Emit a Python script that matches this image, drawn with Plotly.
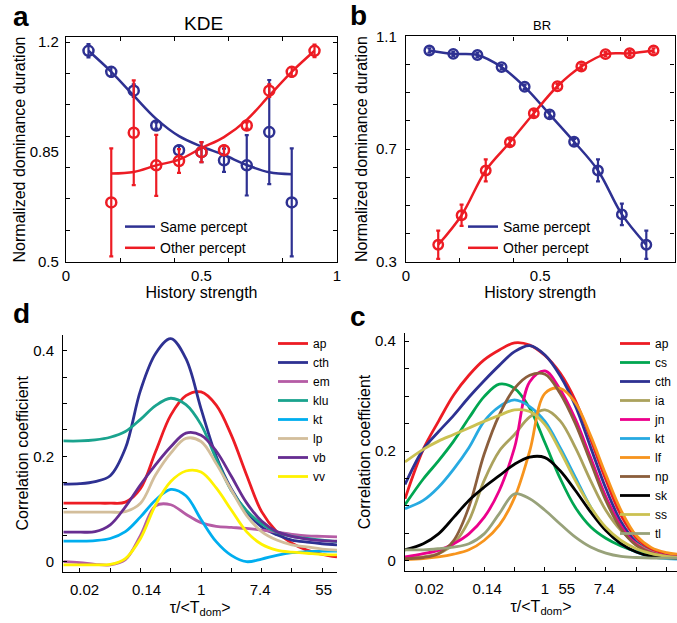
import plotly.graph_objects as go

W, H = 677, 623
FONT = "Liberation Sans, Arial, Helvetica, sans-serif"
BLUE = "#2E3192"
RED = "#ED1C24"

# ---------------- Panel a (KDE) ----------------
a_same_x = [0.083, 0.167, 0.250, 0.333, 0.417, 0.500, 0.583, 0.667, 0.750, 0.833]
a_same_y = [1.172, 1.105, 1.045, 0.934, 0.855, 0.849, 0.823, 0.807, 0.913, 0.689]
a_same_err = [0.021, 0.015, 0.020, 0.010, 0.015, 0.032, 0.037, 0.096, 0.166, 0.172]
a_same_fit = [1.172, 1.105, 1.029, 0.955, 0.900, 0.867, 0.840, 0.808, 0.785, 0.779]

a_other_x = [0.167, 0.250, 0.333, 0.417, 0.500, 0.583, 0.667, 0.750, 0.833, 0.917]
a_other_y = [0.689, 0.911, 0.807, 0.821, 0.849, 0.855, 0.934, 1.045, 1.105, 1.172]
a_other_err = [0.172, 0.167, 0.097, 0.038, 0.032, 0.015, 0.010, 0.020, 0.015, 0.020]
a_other_fit = [0.781, 0.786, 0.807, 0.825, 0.862, 0.897, 0.952, 1.029, 1.105, 1.172]

# ---------------- Panel b (BR) ----------------
b_same_x = [0.087, 0.176, 0.266, 0.356, 0.442, 0.535, 0.626, 0.715, 0.804, 0.895]
b_same_y = [1.050, 1.038, 1.034, 0.991, 0.921, 0.823, 0.726, 0.624, 0.468, 0.360]
b_same_err = [0.008, 0.008, 0.008, 0.008, 0.008, 0.010, 0.010, 0.039, 0.038, 0.050]

b_other_x = [0.120, 0.207, 0.297, 0.387, 0.476, 0.564, 0.653, 0.743, 0.833, 0.922]
b_other_y = [0.360, 0.465, 0.624, 0.724, 0.827, 0.923, 0.993, 1.037, 1.040, 1.050]
b_other_err = [0.050, 0.038, 0.039, 0.010, 0.010, 0.008, 0.008, 0.008, 0.008, 0.008]

# ---------------- Panel d ----------------
d_ln_tau = [-4.55, -4, -3.5, -3, -2.5, -2, -1.5, -1, -0.5, 0, 0.5, 1, 1.5, 2, 2.5, 3, 3.5, 4, 4.49]
d_names = ["ap", "cth", "em", "klu", "kt", "lp", "vb", "vv"]
d_colors = ["#ED1C24", "#2E3192", "#B55CA5", "#1AA38E", "#00AEEF", "#D3BE9B", "#662D91", "#FFF200"]
d_ap = [0.111, 0.111, 0.111, 0.111, 0.113, 0.139, 0.209, 0.278, 0.315, 0.322, 0.297, 0.240, 0.165, 0.095, 0.057, 0.035, 0.022, 0.014, 0.009]
d_cth = [0.147, 0.148, 0.152, 0.163, 0.215, 0.325, 0.395, 0.423, 0.385, 0.290, 0.200, 0.138, 0.095, 0.066, 0.051, 0.041, 0.037, 0.034, 0.032]
d_em = [0.000, -0.002, -0.005, -0.006, 0.004, 0.050, 0.106, 0.108, 0.090, 0.074, 0.067, 0.065, 0.063, 0.060, 0.056, 0.052, 0.049, 0.048, 0.047]
d_klu = [0.229, 0.229, 0.231, 0.236, 0.247, 0.270, 0.296, 0.310, 0.298, 0.260, 0.195, 0.135, 0.097, 0.072, 0.056, 0.048, 0.044, 0.041, 0.038]
d_kt = [0.039, 0.039, 0.040, 0.044, 0.057, 0.085, 0.117, 0.137, 0.125, 0.080, 0.038, 0.012, 0.000, 0.005, 0.012, 0.017, 0.019, 0.020, 0.020]
d_lp = [0.094, 0.094, 0.094, 0.094, 0.095, 0.111, 0.165, 0.206, 0.234, 0.228, 0.186, 0.136, 0.088, 0.057, 0.041, 0.032, 0.028, 0.024, 0.022]
d_vb = [0.056, 0.056, 0.057, 0.070, 0.104, 0.146, 0.184, 0.218, 0.244, 0.240, 0.210, 0.162, 0.112, 0.077, 0.057, 0.048, 0.043, 0.040, 0.039]
d_vv = [-0.006, -0.006, -0.006, -0.005, 0.006, 0.044, 0.108, 0.152, 0.172, 0.170, 0.140, 0.098, 0.057, 0.033, 0.022, 0.018, 0.016, 0.014, 0.013]
d_series = [d_ap, d_cth, d_em, d_klu, d_kt, d_lp, d_vb, d_vv]
d_tick_pos = [-3.85, -1.8, 0, 1.95, 4.05]
d_tick_text = ["0.02", "0.14", "1", "7.4", "55"]

# ---------------- Panel c ----------------
c_ln_tau = [-4.6, -4, -3.5, -3, -2.5, -2, -1.5, -1, -0.5, 0, 0.5, 1, 1.5, 2, 2.5, 3, 3.5, 4, 4.34]
c_names = ["ap", "cs", "cth", "ia", "jn", "kt", "lf", "np", "sk", "ss", "tl"]
c_colors = ["#ED1C24", "#00A651", "#2E3192", "#ABA25D", "#EC008C", "#27AAE1", "#F7941D", "#8B5E3C", "#000000", "#CBC152", "#98A27A"]
c_ap = [0.113, 0.203, 0.254, 0.302, 0.338, 0.366, 0.384, 0.397, 0.393, 0.374, 0.342, 0.292, 0.222, 0.148, 0.083, 0.042, 0.021, 0.013, 0.010]
c_cs = [0.102, 0.149, 0.182, 0.218, 0.260, 0.299, 0.322, 0.314, 0.278, 0.215, 0.150, 0.097, 0.062, 0.041, 0.027, 0.017, 0.010, 0.006, 0.005]
c_cth = [0.139, 0.203, 0.235, 0.265, 0.298, 0.328, 0.356, 0.381, 0.392, 0.375, 0.337, 0.282, 0.207, 0.132, 0.071, 0.034, 0.016, 0.009, 0.007]
c_ia = [0.006, 0.007, 0.013, 0.031, 0.073, 0.146, 0.200, 0.230, 0.262, 0.275, 0.255, 0.206, 0.146, 0.092, 0.055, 0.031, 0.016, 0.008, 0.006]
c_jn = [0.007, 0.013, 0.019, 0.031, 0.049, 0.079, 0.128, 0.206, 0.326, 0.346, 0.312, 0.258, 0.188, 0.117, 0.063, 0.030, 0.015, 0.009, 0.007]
c_kt = [0.095, 0.110, 0.134, 0.167, 0.206, 0.254, 0.281, 0.293, 0.281, 0.254, 0.206, 0.152, 0.098, 0.058, 0.031, 0.016, 0.007, 0.004, 0.003]
c_lf = [0.002, 0.004, 0.007, 0.012, 0.020, 0.037, 0.065, 0.115, 0.200, 0.305, 0.314, 0.288, 0.228, 0.157, 0.092, 0.046, 0.024, 0.015, 0.012]
c_np = [0.004, 0.006, 0.013, 0.037, 0.098, 0.194, 0.266, 0.314, 0.338, 0.340, 0.305, 0.250, 0.180, 0.110, 0.058, 0.028, 0.014, 0.008, 0.006]
c_sk = [0.020, 0.031, 0.049, 0.079, 0.110, 0.134, 0.155, 0.176, 0.189, 0.188, 0.164, 0.128, 0.089, 0.055, 0.031, 0.016, 0.008, 0.006, 0.005]
c_ss = [0.180, 0.203, 0.218, 0.230, 0.242, 0.254, 0.265, 0.275, 0.272, 0.248, 0.200, 0.146, 0.098, 0.061, 0.037, 0.022, 0.013, 0.008, 0.006]
c_tl = [0.020, 0.020, 0.022, 0.025, 0.031, 0.049, 0.086, 0.122, 0.113, 0.092, 0.067, 0.043, 0.025, 0.014, 0.008, 0.006, 0.005, 0.005, 0.005]
c_series = [c_ap, c_cs, c_cth, c_ia, c_jn, c_kt, c_lf, c_np, c_sk, c_ss, c_tl]
c_tick_pos = [-3.8, -1.9, 0, 0.72, 1.95]
c_tick_text = ["0.02", "0.14", "1", "55", "7.4"]


def px(p):
    return p / W


def py(p):
    return 1 - p / H


fig = go.Figure()

# ---- panel a traces
fig.add_trace(go.Scatter(x=a_same_x, y=a_same_fit, mode="lines", name="Same percept",
                         line=dict(color=BLUE, width=2.5, shape="spline"),
                         xaxis="x", yaxis="y", legend="legend"))
fig.add_trace(go.Scatter(x=a_other_x, y=a_other_fit, mode="lines", name="Other percept",
                         line=dict(color=RED, width=2.5, shape="spline"),
                         xaxis="x", yaxis="y", legend="legend"))
for xs, ys, es, col in [(a_same_x, a_same_y, a_same_err, BLUE), (a_other_x, a_other_y, a_other_err, RED)]:
    fig.add_trace(go.Scatter(x=xs, y=ys, mode="markers", showlegend=False,
                             marker=dict(symbol="circle-open", size=10, color=col, line=dict(width=2.5, color=col)),
                             error_y=dict(type="data", array=es, color=col, thickness=2.2, width=2),
                             xaxis="x", yaxis="y"))

# ---- panel b traces
fig.add_trace(go.Scatter(x=b_same_x, y=b_same_y, mode="lines", name="Same percept",
                         line=dict(color=BLUE, width=2.5, shape="spline"),
                         xaxis="x2", yaxis="y2", legend="legend2"))
fig.add_trace(go.Scatter(x=b_other_x, y=b_other_y, mode="lines", name="Other percept",
                         line=dict(color=RED, width=2.5, shape="spline"),
                         xaxis="x2", yaxis="y2", legend="legend2"))
for xs, ys, es, col in [(b_same_x, b_same_y, b_same_err, BLUE), (b_other_x, b_other_y, b_other_err, RED)]:
    fig.add_trace(go.Scatter(x=xs, y=ys, mode="markers", showlegend=False,
                             marker=dict(symbol="circle-open", size=9.5, color=col, line=dict(width=2.4, color=col)),
                             error_y=dict(type="data", array=es, color=col, thickness=2.2, width=2),
                             xaxis="x2", yaxis="y2"))

# ---- panel d traces
for name, col, ys in zip(d_names, d_colors, d_series):
    fig.add_trace(go.Scatter(x=d_ln_tau, y=ys, mode="lines", name=name,
                             line=dict(color=col, width=2.8, shape="spline", smoothing=1.0),
                             xaxis="x3", yaxis="y3", legend="legend3"))

# ---- panel c traces
for name, col, ys in zip(c_names, c_colors, c_series):
    fig.add_trace(go.Scatter(x=c_ln_tau, y=ys, mode="lines", name=name,
                             line=dict(color=col, width=2.8, shape="spline", smoothing=1.0),
                             xaxis="x4", yaxis="y4", legend="legend4"))

tickfont = dict(family=FONT, size=15, color="black")
titlefont = dict(family=FONT, size=16, color="black")
base = dict(showline=True, linecolor="black", linewidth=1.3, showgrid=False, zeroline=False,
            ticks="inside", tickcolor="black", tickwidth=1, tickfont=tickfont, fixedrange=True,
            automargin=False)
minor_tick = dict(ticks="inside", ticklen=4, tickwidth=1, tickcolor="black", showgrid=False)
leg = dict(xanchor="left", yanchor="top", bgcolor="rgba(0,0,0,0)", itemwidth=30, tracegroupgap=0)
ann = dict(xref="paper", yref="paper", showarrow=False, xanchor="center", yanchor="middle")

fig.update_layout(
    width=W, height=H, margin=dict(l=0, r=0, t=0, b=0, autoexpand=False),
    paper_bgcolor="white", plot_bgcolor="white",
    font=dict(family=FONT, color="black"),
    # panel a
    xaxis=dict(base, domain=[px(66), px(337)], range=[0, 1], anchor="y", mirror="ticks",
               tickvals=[0, 0.5, 1], ticktext=["0", "0.5", "1"], ticklen=0,
               minor=dict(minor_tick, tickvals=[0.2, 0.4, 0.6, 0.8]),
               title=dict(text="History strength", font=titlefont, standoff=0)),
    yaxis=dict(base, domain=[py(261.7), py(37.3)], range=[0.5, 1.215], anchor="x", mirror="ticks",
               tickvals=[0.5, 0.85, 1.2], ticktext=["0.5", "0.85", "1.2"], ticklen=0, ticklabelstandoff=3,
               minor=dict(minor_tick, tickvals=[0.6, 0.7, 0.8, 0.9, 1.0, 1.1, 1.2]),
               title=dict(text="Normalized dominance duration", font=titlefont, standoff=0)),
    # panel b
    xaxis2=dict(base, domain=[px(406), px(674.5)], range=[0, 1], anchor="y2", mirror="ticks",
                tickvals=[0, 0.5, 1], ticktext=["0", "0.5", "1"], ticklen=0,
                minor=dict(minor_tick, tickvals=[0.2, 0.4, 0.6, 0.8]),
                title=dict(text="History strength", font=titlefont, standoff=0)),
    yaxis2=dict(base, domain=[py(261.7), py(36.4)], range=[0.3, 1.1], anchor="x2", mirror="ticks",
                tickvals=[0.3, 0.7, 1.1], ticktext=["0.3", "0.7", "1.1"], ticklen=0, ticklabelstandoff=5,
                minor=dict(minor_tick, tickvals=[0.4, 0.5, 0.6, 0.7, 0.8, 0.9, 1.0]),
                title=dict(text="Normalized dominance duration", font=titlefont, standoff=4)),
    # panel d
    xaxis3=dict(base, domain=[px(63.3), px(337)], range=[-4.55, 4.49], anchor="y3",
                tickvals=d_tick_pos, ticktext=d_tick_text, ticklen=0, ticklabelstandoff=4,
                minor=dict(minor_tick, tickvals=[-4, -3, -2, -1, 0, 1, 2, 3, 4]),
                title=dict(text="τ/&lt;T<sub>dom</sub>&gt;", font=titlefont, standoff=4)),
    yaxis3=dict(base, domain=[py(571.7), py(335)], range=[-0.019, 0.43], anchor="x3",
                tickvals=[0, 0.2, 0.4], ticktext=["0", "0.2", "0.4"], ticklen=4, ticklabelstandoff=5,
                minor=dict(minor_tick, tickvals=[0.05, 0.1, 0.15, 0.25, 0.3, 0.35]),
                title=dict(text="Correlation coefficient", font=titlefont, standoff=0)),
    # panel c
    xaxis4=dict(base, domain=[px(405), 1.0], range=[-4.6, 4.34], anchor="y4",
                tickvals=c_tick_pos, ticktext=c_tick_text, ticklen=0, ticklabelstandoff=4,
                minor=dict(minor_tick, tickvals=[-4, -3, -2, -1, 0, 1, 2, 3, 4]),
                title=dict(text="τ/&lt;T<sub>dom</sub>&gt;", font=titlefont, standoff=4)),
    yaxis4=dict(base, domain=[py(571), py(333)], range=[-0.0186, 0.415], anchor="x4",
                tickvals=[0, 0.2, 0.4], ticktext=["0", "0.2", "0.4"], ticklen=4, ticklabelstandoff=5,
                minor=dict(minor_tick, tickvals=[0.05, 0.1, 0.15, 0.25, 0.3, 0.35]),
                title=dict(text="Correlation coefficient", font=titlefont, standoff=0)),
    legend=dict(leg, x=px(120), y=py(211), font=dict(family=FONT, size=14, color="black")),
    legend2=dict(leg, x=px(463), y=py(211), font=dict(family=FONT, size=14, color="black")),
    legend3=dict(leg, x=px(273), y=py(329), font=dict(family=FONT, size=12, color="black")),
    legend4=dict(leg, x=1.0, xanchor="right", y=py(329), font=dict(family=FONT, size=12, color="black")),
    annotations=[
        dict(ann, text="<b>a</b>", x=px(21), y=py(16), font=dict(family=FONT, size=28, color="black")),
        dict(ann, text="<b>b</b>", x=px(358), y=py(15), font=dict(family=FONT, size=28, color="black")),
        dict(ann, text="<b>d</b>", x=px(22), y=py(313), font=dict(family=FONT, size=28, color="black")),
        dict(ann, text="<b>c</b>", x=px(358), y=py(316), font=dict(family=FONT, size=28, color="black")),
        dict(ann, text="KDE", x=px(203), y=py(23), font=dict(family=FONT, size=19, color="black")),
        dict(ann, text="BR", x=px(541.7), y=py(25), font=dict(family=FONT, size=13, color="black")),
    ],
)

fig.write_html("out.html", config={"displayModeBar": False},
               post_script="document.body.style.margin='0px';document.body.style.overflow='hidden';")
